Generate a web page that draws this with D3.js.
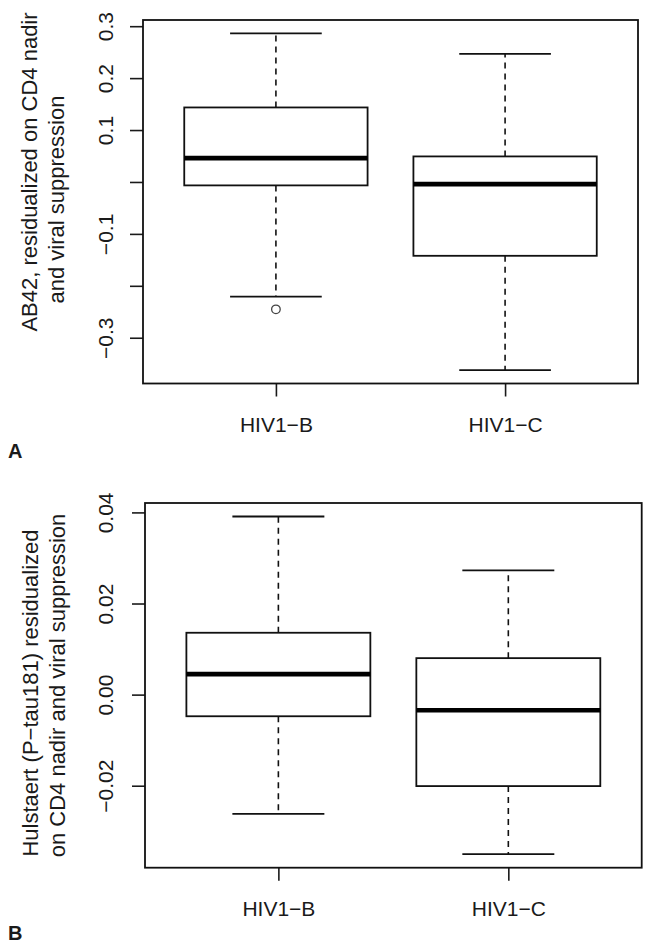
<!DOCTYPE html>
<html><head><meta charset="utf-8">
<script src="https://cdn.jsdelivr.net/npm/d3@7"></script>
<style>
body{margin:0;background:#fff}
svg{display:block}
text{font-family:"Liberation Sans",Arial,Helvetica,sans-serif;fill:#1a1a1a}
</style>
</head><body>
<svg id="c" width="650" height="952"></svg>
<script>
// ---------------- data ----------------
const categories = ["HIV1−B", "HIV1−C"];
// each row: [lower whisker, Q1, median, Q3, upper whisker]
const statsA = [
  [-0.221, -0.0066, 0.0459, 0.1435, 0.286],
  [-0.3622, -0.1422, -0.0041, 0.0492, 0.2467]
];
const outliersA = [[-0.2453], []];
const statsB = [
  [-0.0262, -0.00475, 0.00451, 0.01358, 0.0391],
  [-0.03503, -0.02008, -0.00344, 0.00801, 0.02728]
];
const outliersB = [[], []];
const ticksA = [-0.3, -0.2, -0.1, 0, 0.1, 0.2, 0.3];
const tickLabelsA = ["−0.3", "", "−0.1", "", "0.1", "0.2", "0.3"];
const ticksB = [-0.02, 0, 0.02, 0.04];
const tickLabelsB = ["−0.02", "0.00", "0.02", "0.04"];
const titleA = ["AB42, residualized on CD4 nadir", "and viral suppression"];
const titleB = ["Hulstaert (P−tau181) residualized", "on CD4 nadir and viral suppression"];
const panelLetters = ["A", "B"];

// ---------------- layout ----------------
const svg = d3.select("#c");
const FS = 21;

function panel(cfg) {
  const {stats, outliers, ticks, tickLabels, title, letter, L} = cfg;
  const g = svg.append("g");
  // y domain as R: data range extended by 4%
  const all = stats.flat().concat(outliers.flat());
  const mn = d3.min(all), mx = d3.max(all), ext = (mx - mn) * 0.04;
  const y = d3.scaleLinear().domain([mn - ext, mx + ext]).range([L.b, L.t]);
  const x = d3.scaleLinear().domain([0.42, 2.58]).range([L.l, L.r]);

  // y axis
  const ya = g.append("g").attr("transform", `translate(${L.l},0)`)
    .call(d3.axisLeft(y).tickValues(ticks).tickSize(13)
      .tickFormat((d, i) => tickLabels[i]));
  ya.select(".domain").remove();
  ya.selectAll("line").attr("stroke", "#1a1a1a").attr("stroke-width", 1.6);
  ya.selectAll("text")
    .attr("transform", "rotate(-90)")
    .attr("x", 0).attr("y", -L.tickLab).attr("dy", 0)
    .attr("text-anchor", "middle")
    .attr("font-size", FS).attr("fill", "#1a1a1a")
    .attr("font-family", '"Liberation Sans",Arial,sans-serif');

  // x axis
  const xa = g.append("g").attr("transform", `translate(0,${L.b})`)
    .call(d3.axisBottom(x).tickValues([1, 2]).tickSize(13)
      .tickFormat((d, i) => categories[i]));
  xa.select(".domain").remove();
  xa.selectAll("line").attr("stroke", "#1a1a1a").attr("stroke-width", 1.6);
  xa.selectAll("text").attr("y", 48).attr("dy", 0)
    .attr("font-size", FS).attr("fill", "#1a1a1a")
    .attr("font-family", '"Liberation Sans",Arial,sans-serif');

  // boxes
  stats.forEach((s, i) => {
    const cx = x(i + 1), hw = x(i + 1 + 0.4) - cx, cw = x(i + 1 + 0.2) - cx;
    const [lo, q1, med, q3, hi] = s;
    // whiskers
    g.append("line").attr("x1", cx).attr("x2", cx).attr("y1", y(q3)).attr("y2", y(hi))
      .attr("stroke", "#111").attr("stroke-width", 1.6).attr("stroke-dasharray", "6,5");
    g.append("line").attr("x1", cx).attr("x2", cx).attr("y1", y(q1)).attr("y2", y(lo))
      .attr("stroke", "#111").attr("stroke-width", 1.6).attr("stroke-dasharray", "6,5");
    // caps
    [lo, hi].forEach(v => g.append("line").attr("x1", cx - cw).attr("x2", cx + cw)
      .attr("y1", y(v)).attr("y2", y(v)).attr("stroke", "#111").attr("stroke-width", 1.8));
    // box
    g.append("rect").attr("x", cx - hw).attr("width", 2 * hw)
      .attr("y", y(q3)).attr("height", y(q1) - y(q3))
      .attr("fill", "#fff").attr("stroke", "#111").attr("stroke-width", 1.8);
    // median
    g.append("line").attr("x1", cx - hw).attr("x2", cx + hw)
      .attr("y1", y(med)).attr("y2", y(med)).attr("stroke", "#000").attr("stroke-width", 4.6);
    // outliers
    outliers[i].forEach(v => g.append("circle").attr("cx", cx).attr("cy", y(v)).attr("r", 4.3)
      .attr("fill", "none").attr("stroke", "#444").attr("stroke-width", 1.3));
  });

  // frame
  g.append("rect").attr("x", L.l).attr("y", L.t).attr("width", L.r - L.l).attr("height", L.b - L.t)
    .attr("fill", "none").attr("stroke", "#111").attr("stroke-width", 1.8);

  // y title lines
  title.forEach((t, i) => {
    g.append("text").attr("transform", `translate(${L.titleX[i]},${L.titleY[i]}) rotate(-90)`)
      .attr("text-anchor", "middle").attr("font-size", 22).text(t);
  });

  // panel letter
  g.append("text").attr("x", 8).attr("y", L.letterY).attr("font-size", 20)
    .attr("font-weight", "bold").attr("fill", "#000").text(letter);
}

panel({stats: statsA, outliers: outliersA, ticks: ticksA, tickLabels: tickLabelsA,
  title: titleA, letter: panelLetters[0],
  L: {l: 143, r: 638, t: 20, b: 383.5, tickLab: 30, titleX: [37, 64], titleY: [172, 199.5], letterY: 457.5}});
panel({stats: statsB, outliers: outliersB, ticks: ticksB, tickLabels: tickLabelsB,
  title: titleB, letter: panelLetters[1],
  L: {l: 145, r: 641.7, t: 503, b: 867.7, tickLab: 32, titleX: [38, 65], titleY: [693, 685.5], letterY: 940}});
</script>
</body></html>
